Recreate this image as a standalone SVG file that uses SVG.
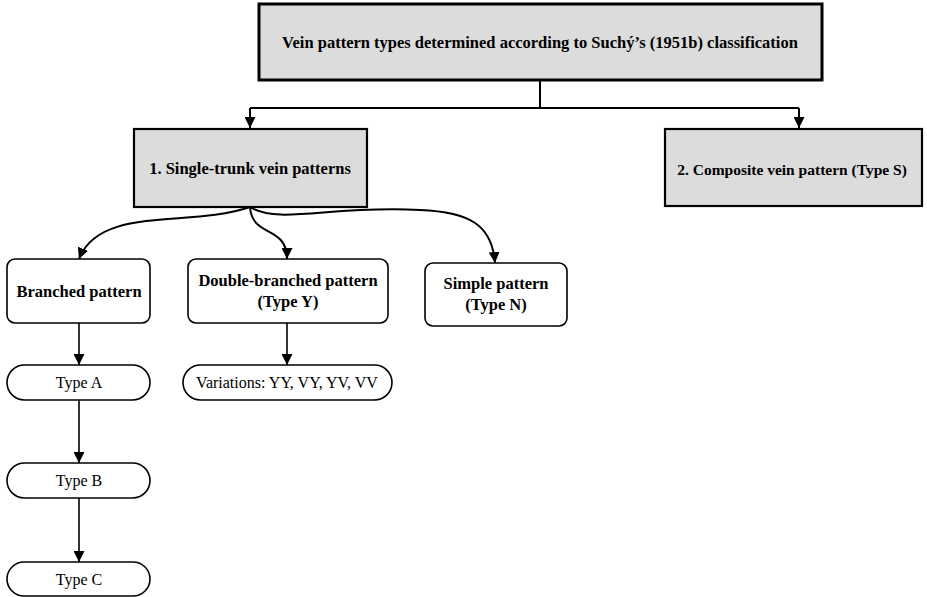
<svg xmlns="http://www.w3.org/2000/svg" width="927" height="597" viewBox="0 0 927 597">
<defs>
<style>
.gbox{fill:#dcdcdc;stroke:#000;stroke-width:2.2}
.wbox{fill:#fff;stroke:#000;stroke-width:1.6}
.b{font-family:"Liberation Serif","Times New Roman",serif;font-weight:bold;font-size:16.5px;text-anchor:middle;fill:#000}
.n{font-family:"Liberation Serif","Times New Roman",serif;font-size:16px;text-anchor:middle;fill:#000}
.c{fill:none;stroke:#000;stroke-width:2}
.c2{fill:none;stroke:#000;stroke-width:1.6}
</style>
<marker id="ah" viewBox="0 0 10 10" refX="10" refY="5" markerWidth="11" markerHeight="11" markerUnits="userSpaceOnUse" orient="auto">
<path d="M0,0 L10,5 L0,10 Z" fill="#000"/>
</marker>
</defs>
<rect width="927" height="597" fill="#fff"/>
<g id="connectors">
<path class="c" d="M540,80 V108"/>
<path class="c" d="M250,108 H799"/>
<path class="c" d="M250,108 V128" marker-end="url(#ah)"/>
<path class="c" d="M799,108 V128" marker-end="url(#ah)"/>
<path class="c" d="M250,207 C190,228 100,205 79,259" marker-end="url(#ah)"/>
<path class="c" d="M250,207 C252,238 287,225 287,259" marker-end="url(#ah)"/>
<path class="c" d="M250,207 C280,225 330,205 420,210 C470,212 492,225 495,263" marker-end="url(#ah)"/>
<path class="c2" d="M79,323 V365" marker-end="url(#ah)"/>
<path class="c2" d="M287,323 V365" marker-end="url(#ah)"/>
<path class="c2" d="M79,400 V463" marker-end="url(#ah)"/>
<path class="c2" d="M79,498 V562" marker-end="url(#ah)"/>
</g>
<g id="root">
<rect class="gbox" x="259" y="4" width="563" height="76" style="stroke-width:3"/>
<text class="b" x="540" y="48">Vein pattern types determined according to Suchý’s (1951b) classification</text>
</g>
<g id="single-trunk">
<rect class="gbox" x="134" y="129" width="233" height="78"/>
<text class="b" x="250" y="174">1. Single-trunk vein patterns</text>
</g>
<g id="composite">
<rect class="gbox" x="665" y="129" width="257" height="77"/>
<text class="b" x="792" y="175" style="font-size:15.5px">2. Composite vein pattern (Type S)</text>
</g>
<g id="branched">
<rect class="wbox" x="7" y="259" width="143" height="64" rx="8"/>
<text class="b" x="79" y="297">Branched pattern</text>
</g>
<g id="double-branched">
<rect class="wbox" x="188" y="259" width="200" height="64" rx="8"/>
<text class="b" x="288" y="286">Double-branched pattern</text>
<text class="b" x="288" y="307">(Type Y)</text>
</g>
<g id="simple">
<rect class="wbox" x="425" y="263" width="142" height="63" rx="8"/>
<text class="b" x="496" y="289">Simple pattern</text>
<text class="b" x="496" y="310">(Type N)</text>
</g>
<g id="type-a">
<rect class="wbox" x="7" y="365" width="143" height="35" rx="17.5"/>
<text class="n" x="79" y="388">Type A</text>
</g>
<g id="variations">
<rect class="wbox" x="183" y="365" width="209" height="35" rx="17.5"/>
<text class="n" x="287" y="388">Variations: YY, VY, YV, VV</text>
</g>
<g id="type-b">
<rect class="wbox" x="7" y="463" width="143" height="35" rx="17.5"/>
<text class="n" x="79" y="486">Type B</text>
</g>
<g id="type-c">
<rect class="wbox" x="7" y="562" width="143" height="34" rx="17"/>
<text class="n" x="79" y="585">Type C</text>
</g>
</svg>
